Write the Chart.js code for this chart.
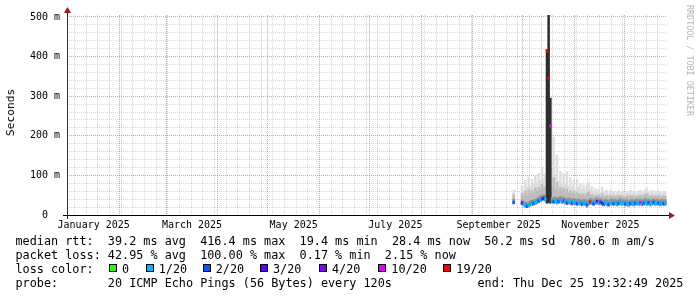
<!DOCTYPE html>
<html>
<head>
<meta charset="utf-8">
<script src="https://cdn.jsdelivr.net/npm/chart.js@4.4.1/dist/chart.umd.min.js"></script>
<style>
html, body { margin: 0; padding: 0; background: #fff; }
#wrap { position: relative; width: 697px; height: 297px; overflow: hidden; background: #fff; }
#chart { position: absolute; left: 0; top: 0; }
.txt { position: absolute; font-family: 'DejaVu Sans Mono', monospace; font-size: 11.8px; line-height: 14px; white-space: pre; color: #000; }
.box { position: absolute; top: 264px; width: 6px; height: 6px; border: 1px solid #000; }
#ylabel { position: absolute; left: 4px; top: 89px; font-family: 'DejaVu Sans Mono', monospace; font-size: 11.2px; line-height: 14px; writing-mode: vertical-rl; transform: rotate(180deg); color: #000; }
#stamp { position: absolute; left: 685px; top: 5px; font-family: 'DejaVu Sans Mono', monospace; font-size: 8.4px; line-height: 9px; writing-mode: vertical-rl; color: #b4b4b4; white-space: pre; }
</style>
</head>
<body>
<div id="wrap">
  <canvas id="chart" width="697" height="297"></canvas>
  <div id="ylabel">Seconds</div>
  <div id="stamp">RRDTOOL / TOBI OETIKER</div>
  <div class="txt" style="left:15.5px;top:234px">median rtt:  39.2 ms avg  416.4 ms max  19.4 ms min  28.4 ms now  50.2 ms sd  780.6 m am/s</div>
  <div class="txt" style="left:15.5px;top:248px">packet loss: 42.95 % avg  100.00 % max  0.17 % min  2.15 % now</div>
  <div class="txt" style="left:15.5px;top:262px">loss color:</div>
  <div id="lossLegend"></div>
  <div class="txt" style="left:15.5px;top:276px">probe:       20 ICMP Echo Pings (56 Bytes) every 120s</div>
  <div class="txt" style="left:477.5px;top:276px">end: Thu Dec 25 19:32:49 2025</div>
</div>
<script>
// Axis range (one pixel column = 0.6 day)
const DAY = 86400000;
const xStart = Date.UTC(2024, 11, 31, 12);
const xEnd = xStart + 360 * DAY;
const firstSample = Date.UTC(2025, 8, 25, 12); // Sep 25, one value per day

// Tick labels
const monthLabels = ['January 2025', 'March 2025', 'May 2025', 'July 2025', 'September 2025', 'November 2025'];
const labelMonths = [0, 2, 4, 6, 8, 10];
const yGridValues = [0, 20, 40, 60, 80, 100, 120, 140, 160, 180, 200, 220, 240, 260, 280, 300,
                     320, 340, 360, 380, 400, 420, 440, 460, 480, 500];
const yLabelValues = [0, 100, 200, 300, 400, 500];
const yLabelTexts = ['0  ', '100 m', '200 m', '300 m', '400 m', '500 m'];

// Loss colours
const lossLevels = ['0', '1/20', '2/20', '3/20', '4/20', '10/20', '19/20'];
const lossColors = ['#26ff00', '#00b8ff', '#0059ff', '#5e00ff', '#7e00ff', '#dd00ff', '#ff0000'];
const lossBoxX = [109, 145.7, 202.7, 260, 319, 378.3, 443.3];

// Series (ms), index 0 = Sep 25 ... 91 = Dec 25
const medianRtt = [
  32, null, null, null, null, 30, 27, 24, 22, 25,
  27, 28, 30, 31, 33, 36, 39, 41, 42, 40,
  414, 346, 225, 36, 34, 37, 33, 35, 38, 34,
  36, 33, 31, 34, 32, 30, 33, 31, 29, 32,
  30, 28, 31, 29, 27, 30, 33, 31, 29, 32,
  34, 31, 33, 30, 28, 31, 29, 27, 30, 32,
  29, 31, 28, 30, 33, 29, 31, 28, 30, 27,
  29, 31, 28, 30, 32, 29, 31, 28, 30, 33,
  29, 31, 28, 30, 32, 29, 31, 30, 28, 31,
  29, 30
];
const lossIdx = [
  2, 0, 0, 0, 0, 3, 1, 1, 2, 1,
  1, 1, 2, 1, 1, 2, 1, 2, 3, 1,
  6, 6, 5, 1, 2, 1, 1, 2, 1, 1,
  5, 1, 2, 1, 1, 2, 1, 1, 2, 1,
  1, 2, 1, 1, 2, 1, 6, 1, 2, 1,
  3, 1, 2, 3, 2, 1, 1, 2, 1, 1,
  2, 1, 1, 2, 1, 1, 1, 2, 1, 1,
  2, 1, 1, 2, 1, 1, 5, 1, 2, 1,
  1, 2, 1, 1, 2, 1, 1, 2, 1, 1,
  2, 1
];
const pingMin = [
  28, null, null, null, null, 26, 23, 20, 19, 21,
  23, 24, 25, 27, 29, 31, 34, 36, 37, 35,
  30, 32, 30, 31, 29, 32, 28, 30, 33, 29,
  31, 28, 26, 29, 27, 25, 28, 26, 24, 27,
  25, 23, 26, 24, 20, 25, 28, 26, 24, 27,
  29, 26, 28, 25, 23, 26, 24, 22, 25, 27,
  24, 26, 23, 25, 28, 24, 26, 23, 25, 22,
  24, 26, 23, 25, 27, 24, 26, 23, 25, 28,
  24, 26, 23, 25, 27, 24, 26, 25, 23, 26,
  24, 25
];
const pingCore = [
  40, null, null, null, null, 38, 34, 32, 30, 33,
  36, 37, 39, 40, 42, 45, 48, 50, 51, 49,
  418, 505, 295, 45, 43, 46, 42, 44, 47, 43,
  45, 42, 40, 43, 41, 39, 42, 40, 38, 41,
  39, 37, 40, 38, 36, 39, 42, 40, 38, 41,
  43, 40, 42, 39, 37, 40, 38, 36, 39, 41,
  38, 40, 37, 39, 42, 38, 40, 37, 39, 36,
  38, 40, 37, 39, 41, 38, 40, 37, 39, 42,
  38, 40, 37, 39, 41, 38, 40, 39, 37, 40,
  38, 39
];
const pingUpper = [
  52, null, null, null, null, 55, 48, 60, 50, 64,
  54, 62, 56, 68, 60, 70, 64, 78, 68, 70,
  418, 505, 295, 72, 95, 64, 82, 62, 70, 60,
  68, 58, 66, 56, 62, 54, 60, 52, 58, 53,
  54, 49, 54, 48, 55, 58, 50, 52, 46, 50,
  47, 51, 46, 55, 48, 47, 50, 45, 50, 46,
  49, 46, 48, 50, 47, 49, 46, 45, 49, 46,
  50, 46, 49, 47, 45, 49, 50, 46, 49, 52,
  54, 48, 47, 50, 46, 49, 47, 50, 47, 46,
  49, 47
];
const pingMax = [
  63, null, null, null, null, 75, 62, 88, 70, 96,
  72, 90, 78, 100, 82, 105, 88, 121, 92, 104,
  418, 505, 295, 120, 197, 95, 152, 85, 110, 80,
  105, 78, 109, 74, 95, 70, 88, 66, 88, 70,
  80, 64, 76, 62, 76, 83, 64, 72, 58, 66,
  58, 65, 56, 71, 60, 58, 63, 54, 62, 56,
  60, 54, 58, 62, 55, 60, 57, 54, 60, 56,
  62, 55, 60, 57, 54, 60, 62, 57, 60, 64,
  68, 59, 56, 62, 55, 60, 57, 62, 57, 55,
  60, 57
];

const majorGrid = 'rgba(255, 0, 0, 0.42)';
const minorGrid = 'rgba(0, 0, 0, 0.16)';

// Grid ticks: month starts (red) and Sundays (grey)
const monthStarts = [];
for (let m = 0; m < 12; m++) monthStarts.push(Date.UTC(2025, m, 1));
const monthSet = new Set(monthStarts);
const xGridTicks = monthStarts.slice();
for (let t = Date.UTC(2025, 0, 5); t < xEnd; t += 7 * DAY) {
    if (!monthSet.has(t)) xGridTicks.push(t);
}
xGridTicks.sort((a, b) => a - b);
const labelTicks = labelMonths.map(m => Date.UTC(2025, m, 1) + 15.5 * DAY);

function band(lo, hi) {
    return lo.map((v, i) => ({ x: firstSample + i * DAY, y: v == null ? null : [v, hi[i]] }));
}

const medianBand = medianRtt.map((v, i) => ({ x: firstSample + i * DAY, y: v == null ? null : [v - 3, v + 3] }));

const barCommon = { grouped: false, barThickness: 1.75, borderWidth: 0, borderSkipped: false };

// Loss legend boxes
const lossLegend = document.getElementById('lossLegend');
lossLegend.innerHTML = lossLevels.map((lv, i) => `
    <div class="box" style="left:${lossBoxX[i]}px;background:${lossColors[i]}"></div>
    <div class="txt" style="left:${lossBoxX[i] + 13}px;top:262px">${lv}</div>
`).join('');

const axisArrows = {
    id: 'axisArrows',
    afterDraw(chart) {
        const { ctx, chartArea: a } = chart;
        ctx.save();
        ctx.fillStyle = '#000';
        ctx.fillRect(a.left - 4, a.bottom, a.right - a.left + 6, 1);
        ctx.fillStyle = '#2a2a2a';
        ctx.fillRect(a.left, a.top - 3, 1, a.bottom - a.top + 7);
        ctx.fillStyle = '#9b1c1c';
        ctx.beginPath();
        ctx.moveTo(a.left + 0.5, a.top - 8);
        ctx.lineTo(a.left - 3, a.top - 2);
        ctx.lineTo(a.left + 4, a.top - 2);
        ctx.closePath();
        ctx.fill();
        ctx.beginPath();
        ctx.moveTo(a.right + 8, a.bottom + 0.5);
        ctx.lineTo(a.right + 2, a.bottom - 3);
        ctx.lineTo(a.right + 2, a.bottom + 4);
        ctx.closePath();
        ctx.fill();
        ctx.restore();
    }
};

const tickFont = { family: 'DejaVu Sans Mono', size: 10 };

new Chart(document.getElementById('chart').getContext('2d'), {
    type: 'bar',
    data: {
        datasets: [
            Object.assign({ label: 'median', data: medianBand, order: 0,
                backgroundColor: lossIdx.map(l => lossColors[l]) }, barCommon),
            Object.assign({ label: 'core', data: band(pingMin, pingCore), order: 1,
                backgroundColor: c => medianRtt[c.dataIndex] > 100 ? '#2e2e2e' : '#909090' }, barCommon),
            Object.assign({ label: 'upper', data: band(pingMin, pingUpper), order: 2,
                backgroundColor: '#bdbdbd' }, barCommon),
            Object.assign({ label: 'max', data: band(pingMin, pingMax), order: 3,
                backgroundColor: '#dddddd' }, barCommon)
        ]
    },
    options: {
        responsive: false,
        animation: false,
        layout: { padding: { left: 0, right: 30, top: 15, bottom: 62 } },
        plugins: { legend: { display: false }, tooltip: { enabled: false } },
        scales: {
            x: {
                type: 'linear', position: 'bottom', min: xStart, max: xEnd, offset: false,
                afterBuildTicks: s => { s.ticks = xGridTicks.map(v => ({ value: v })); },
                afterFit: s => { s.height = 0; },
                ticks: { display: false },
                grid: { color: c => monthSet.has(c.tick.value) ? majorGrid : minorGrid, drawTicks: false, offset: false },
                border: { display: false, dash: [1, 1] }
            },
            xl: {
                type: 'linear', position: 'bottom', min: xStart, max: xEnd, offset: false,
                afterBuildTicks: s => { s.ticks = labelTicks.map(v => ({ value: v })); },
                afterFit: s => { s.height = 20; },
                grid: { display: false, drawTicks: false },
                border: { display: false },
                ticks: { autoSkip: false, maxRotation: 0, padding: 4, color: '#000', font: tickFont,
                         callback: (v, i) => monthLabels[i] }
            },
            y: {
                min: 0, max: 505,
                afterBuildTicks: s => { s.ticks = yGridValues.map(v => ({ value: v })); },
                afterFit: s => { s.width = 67; },
                grid: { color: c => c.tick.value % 100 === 0 ? majorGrid : minorGrid, drawTicks: false },
                border: { display: false, dash: [1, 1] },
                ticks: { autoSkip: false, padding: 7, color: '#000', font: tickFont,
                         callback: v => { const k = yLabelValues.indexOf(v); return k < 0 ? '' : yLabelTexts[k]; } }
            }
        }
    },
    plugins: [axisArrows]
});
</script>
</body>
</html>
